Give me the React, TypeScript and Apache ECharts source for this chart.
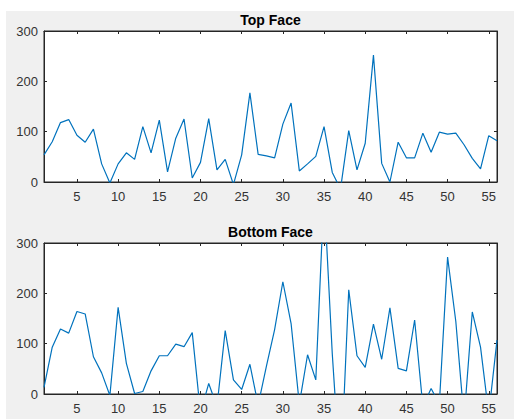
import React, { useEffect, useRef } from "react";
import * as echarts from "echarts";

const sampleIndex: number[] = Array.from({ length: 56 }, (_, i) => i + 1);

const topFace: number[] = [
  54, 80, 118, 124, 93, 79, 105, 36, -2, 36,
  58, 45, 110, 58, 123, 20, 87, 125, 8, 39,
  126, 24, 45, -5, 54, 177, 55, 52, 48, 115,
  157, 22, 36, 51, 110, 19, -14, 102, 24, 77,
  252, 37, 0, 79, 48, 48, 97, 59, 99, 95,
  97, 74, 47, 26, 92, 82,
];

const bottomFace: number[] = [
  13, 93, 129, 121, 164, 159, 74, 42, -3, 172,
  61, 1, 5, 46, 76, 76, 99, 94, 122, -38,
  21, -25, 126, 28, 9, 59, -22, 55, 128, 223,
  140, -20, 78, 28, 400, 80, -170, 207, 76, 53,
  139, 69, 171, 51, 46, 147, -25, 11, -20, 272,
  144, -50, 163, 93, -40, 107,
];

const xTickValues: number[] = [5, 10, 15, 20, 25, 30, 35, 40, 45, 50, 55];
const titles: string[] = ["Top Face", "Bottom Face"];

const AXIS_COLOR = "#262626";
const LABEL_COLOR = "#333333";
const LINE_COLOR = "#0072BD";

export default function App() {
  const ref = useRef<HTMLDivElement>(null);

  useEffect(() => {
    if (!ref.current) return;
    const chart = echarts.init(ref.current, undefined, { renderer: "svg" });

    const grids = [
      { left: 44, top: 31, width: 453, height: 151 },
      { left: 44, top: 243, width: 453, height: 151 },
    ];

    const xAxes: any[] = [];
    const yAxes: any[] = [];
    grids.forEach((_, gi) => {
      xAxes.push({
        type: "value",
        gridIndex: gi,
        position: "bottom",
        min: 1,
        max: 56,
        axisLine: { show: true, onZero: false, lineStyle: { color: AXIS_COLOR, width: 1 } },
        axisTick: { show: true, inside: true, length: 3, customValues: xTickValues, lineStyle: { color: AXIS_COLOR } },
        axisLabel: {
          show: true,
          customValues: xTickValues,
          color: LABEL_COLOR,
          fontSize: 13,
          fontFamily: "Liberation Sans, Arial, sans-serif",
          margin: 8,
        },
        splitLine: { show: false },
      });
      xAxes.push({
        type: "value",
        gridIndex: gi,
        position: "top",
        min: 1,
        max: 56,
        axisLine: { show: true, onZero: false, lineStyle: { color: AXIS_COLOR, width: 1 } },
        axisTick: { show: true, inside: true, length: 3, customValues: xTickValues, lineStyle: { color: AXIS_COLOR } },
        axisLabel: { show: false },
        splitLine: { show: false },
      });
      yAxes.push({
        type: "value",
        gridIndex: gi,
        position: "left",
        min: 0,
        max: 300,
        interval: 100,
        axisLine: { show: true, onZero: false, lineStyle: { color: AXIS_COLOR, width: 1 } },
        axisTick: { show: true, inside: true, length: 3, lineStyle: { color: AXIS_COLOR } },
        axisLabel: {
          show: true,
          color: LABEL_COLOR,
          fontSize: 13,
          fontFamily: "Liberation Sans, Arial, sans-serif",
          margin: 6,
        },
        splitLine: { show: false },
      });
      yAxes.push({
        type: "value",
        gridIndex: gi,
        position: "right",
        min: 0,
        max: 300,
        interval: 100,
        axisLine: { show: true, onZero: false, lineStyle: { color: AXIS_COLOR, width: 1 } },
        axisTick: { show: true, inside: true, length: 3, lineStyle: { color: AXIS_COLOR } },
        axisLabel: { show: false },
        splitLine: { show: false },
      });
    });

    const makeSeries = (values: number[], gi: number) => ({
      type: "line",
      xAxisIndex: gi * 2,
      yAxisIndex: gi * 2,
      data: values.map((v, i) => [sampleIndex[i], v]),
      symbol: "none",
      clip: true,
      lineStyle: { color: LINE_COLOR, width: 1.2 },
      itemStyle: { color: LINE_COLOR },
    });

    chart.setOption({
      animation: false,
      backgroundColor: "#ffffff",
      graphic: [
        {
          type: "rect",
          z: -10,
          silent: true,
          shape: { x: 6, y: 11, width: 508, height: 408 },
          style: { fill: "#f0f0f0" },
        },
      ],
      title: [
        {
          text: titles[0],
          left: 270.5,
          top: 13,
          textAlign: "center",
          padding: 0,
          textStyle: { fontSize: 14, fontWeight: "bold", color: "#000000", fontFamily: "Liberation Sans, Arial, sans-serif" },
        },
        {
          text: titles[1],
          left: 270.5,
          top: 225,
          textAlign: "center",
          padding: 0,
          textStyle: { fontSize: 14, fontWeight: "bold", color: "#000000", fontFamily: "Liberation Sans, Arial, sans-serif" },
        },
      ],
      grid: grids.map((g) => ({
        ...g,
        show: true,
        backgroundColor: "#ffffff",
        borderColor: AXIS_COLOR,
        borderWidth: 1,
        containLabel: false,
      })),
      xAxis: xAxes,
      yAxis: yAxes,
      series: [makeSeries(topFace, 0), makeSeries(bottomFace, 1)],
    });

    return () => chart.dispose();
  }, []);

  return (
    <div
      ref={ref}
      style={{ position: "fixed", left: 0, top: 0, width: 514, height: 419 }}
    />
  );
}
